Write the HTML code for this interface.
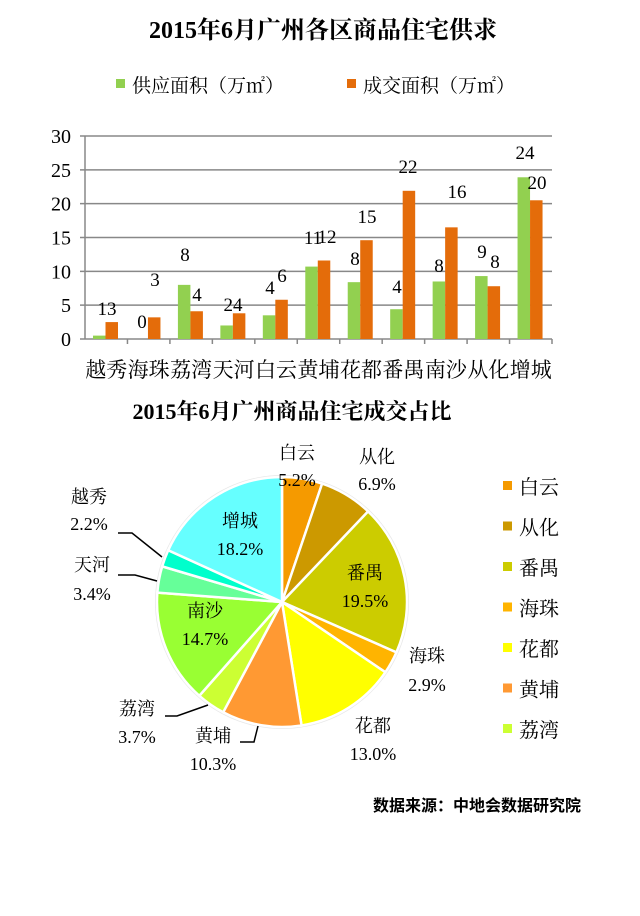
<!DOCTYPE html>
<html><head><meta charset="utf-8"><style>
html,body{margin:0;padding:0;background:#fff;}
svg text{font-family:"Liberation Serif","Noto Serif CJK SC",serif;fill:#000;}
</style></head><body>
<svg id="s" width="640" height="911" viewBox="0 0 640 911" xmlns="http://www.w3.org/2000/svg">
<rect width="640" height="911" fill="#fff"/>
<text x="323" y="38" font-size="24" font-weight="bold" text-anchor="middle">2015年6月广州各区商品住宅供求</text>
<rect x="116" y="79" width="9" height="9" fill="#92d050"/>
<text x="132" y="92" font-size="19">供应面积（万㎡）</text>
<rect x="347" y="79" width="9" height="9" fill="#e46c0a"/>
<text x="363" y="92" font-size="19">成交面积（万㎡）</text>
<g id="bars"></g>
<g font-size="19" text-anchor="middle">
<text x="107" y="315">13</text>
<text x="142" y="328">0</text><text x="155" y="286">3</text>
<text x="185" y="261">8</text><text x="197" y="301">4</text>
<text x="233" y="311">24</text>
<text x="270" y="294">4</text><text x="282" y="282">6</text>
<text x="313" y="244">11</text><text x="327" y="243">12</text>
<text x="355" y="265">8</text><text x="367" y="223">15</text>
<text x="397" y="293">4</text><text x="408" y="173">22</text>
<text x="439" y="272">8</text><text x="457" y="198">16</text>
<text x="482" y="258">9</text><text x="495" y="268">8</text>
<text x="525" y="159">24</text><text x="537" y="189">20</text>
</g>
<text x="292" y="419" font-size="22" font-weight="bold" text-anchor="middle">2015年6月广州商品住宅成交占比</text>
<g id="pie"></g>
<g fill="none" stroke="#000" stroke-width="1.5">
<polyline points="118,533 132,533 162,557"/>
<polyline points="118,575 135,575 157,581"/>
<polyline points="165,716 177,716 208,705"/>
<polyline points="240,742 254,742 258,726"/>
</g>
<g font-size="18" text-anchor="middle">
<text x="297" y="459">白云</text><text x="297" y="486">5.2%</text>
<text x="377" y="463">从化</text><text x="377" y="490">6.9%</text>
<text x="89" y="503">越秀</text><text x="89" y="530">2.2%</text>
<text x="92" y="571">天河</text><text x="92" y="600">3.4%</text>
<text x="240" y="527">增城</text><text x="240" y="555">18.2%</text>
<text x="365" y="579">番禺</text><text x="365" y="607">19.5%</text>
<text x="205" y="617">南沙</text><text x="205" y="645">14.7%</text>
<text x="427" y="662">海珠</text><text x="427" y="691">2.9%</text>
<text x="373" y="732">花都</text><text x="373" y="760">13.0%</text>
<text x="213" y="742">黄埔</text><text x="213" y="770">10.3%</text>
<text x="137" y="715">荔湾</text><text x="137" y="743">3.7%</text>
</g>
<g id="leg" font-size="20"></g>
<text x="581" y="811" font-size="16" font-weight="bold" text-anchor="end" style="font-family:'Liberation Sans','Noto Sans CJK SC',sans-serif">数据来源：中地会数据研究院</text>
</svg>
<script>
var NS="http://www.w3.org/2000/svg";
function el(p,t,a,txt){var e=document.createElementNS(NS,t);for(var k in a)e.setAttribute(k,a[k]);if(txt)e.textContent=txt;p.appendChild(e);return e;}
var b=document.getElementById("bars");
var y0=339,pu=203/30,x0=85,x1=552,cw=(x1-x0)/11;
for(var i=0;i<=6;i++){var y=y0-i*5*pu;el(b,"line",{x1:x0-5,x2:x1,y1:y,y2:y,stroke:"#888","stroke-width":1.5});
el(b,"text",{x:71,y:y+7,"font-size":20,"text-anchor":"end"},String(i*5));}
el(b,"line",{x1:x0,x2:x0,y1:136,y2:y0,stroke:"#888","stroke-width":1.5});
var cats=["越秀","海珠","荔湾","天河","白云","黄埔","花都","番禺","南沙","从化","增城"];
var g=[0.5,0,8,2,3.5,10.7,8.4,4.4,8.5,9.3,23.9],o=[2.5,3.2,4.1,3.8,5.8,11.6,14.6,21.9,16.5,7.8,20.5];
for(var i=0;i<11;i++){var cx=x0+i*cw;
el(b,"line",{x1:cx+cw,x2:cx+cw,y1:y0,y2:y0+5,stroke:"#888","stroke-width":1.5});
el(b,"rect",{x:cx+8,y:y0-g[i]*pu,width:12.5,height:g[i]*pu,fill:"#92d050"});
el(b,"rect",{x:cx+20.5,y:y0-o[i]*pu,width:12.5,height:o[i]*pu,fill:"#e46c0a"});
el(b,"text",{x:cx+cw/2,y:377,"font-size":21,"text-anchor":"middle"},cats[i]);}
var p=document.getElementById("pie");
var cx=282,cy=602,r=125;
var d=[["白云",5.2,"#f59a00"],["从化",6.9,"#cc9900"],["番禺",19.5,"#cccc00"],["海珠",2.9,"#ffb400"],["花都",13.0,"#ffff00"],["黄埔",10.3,"#ff9933"],["荔湾",3.7,"#ccff33"],["南沙",14.7,"#99ff33"],["天河",3.4,"#66ff99"],["越秀",2.2,"#00ffcc"],["增城",18.2,"#66ffff"]];
el(p,"circle",{cx:cx,cy:cy,r:r+2,fill:"#e8e8e8"});
var a=0;
d.forEach(function(s){var a2=a+s[1]/100*2*Math.PI;
var xa=cx+r*Math.sin(a),ya=cy-r*Math.cos(a),xb=cx+r*Math.sin(a2),yb=cy-r*Math.cos(a2);
el(p,"path",{d:"M"+cx+","+cy+"L"+xa+","+ya+"A"+r+","+r+" 0 "+((a2-a)>Math.PI?1:0)+" 1 "+xb+","+yb+"Z",fill:s[2],stroke:"#fff","stroke-width":2.5});a=a2;});
var lg=document.getElementById("leg"),ln=["白云","从化","番禺","海珠","花都","黄埔","荔湾"];
ln.forEach(function(n,i){var y=481+i*40.5;var c=d.filter(function(s){return s[0]==n})[0][2];
el(lg,"rect",{x:503,y:y,width:9,height:9,fill:c});el(lg,"text",{x:519,y:y+13},n);});
</script>
</body></html>
